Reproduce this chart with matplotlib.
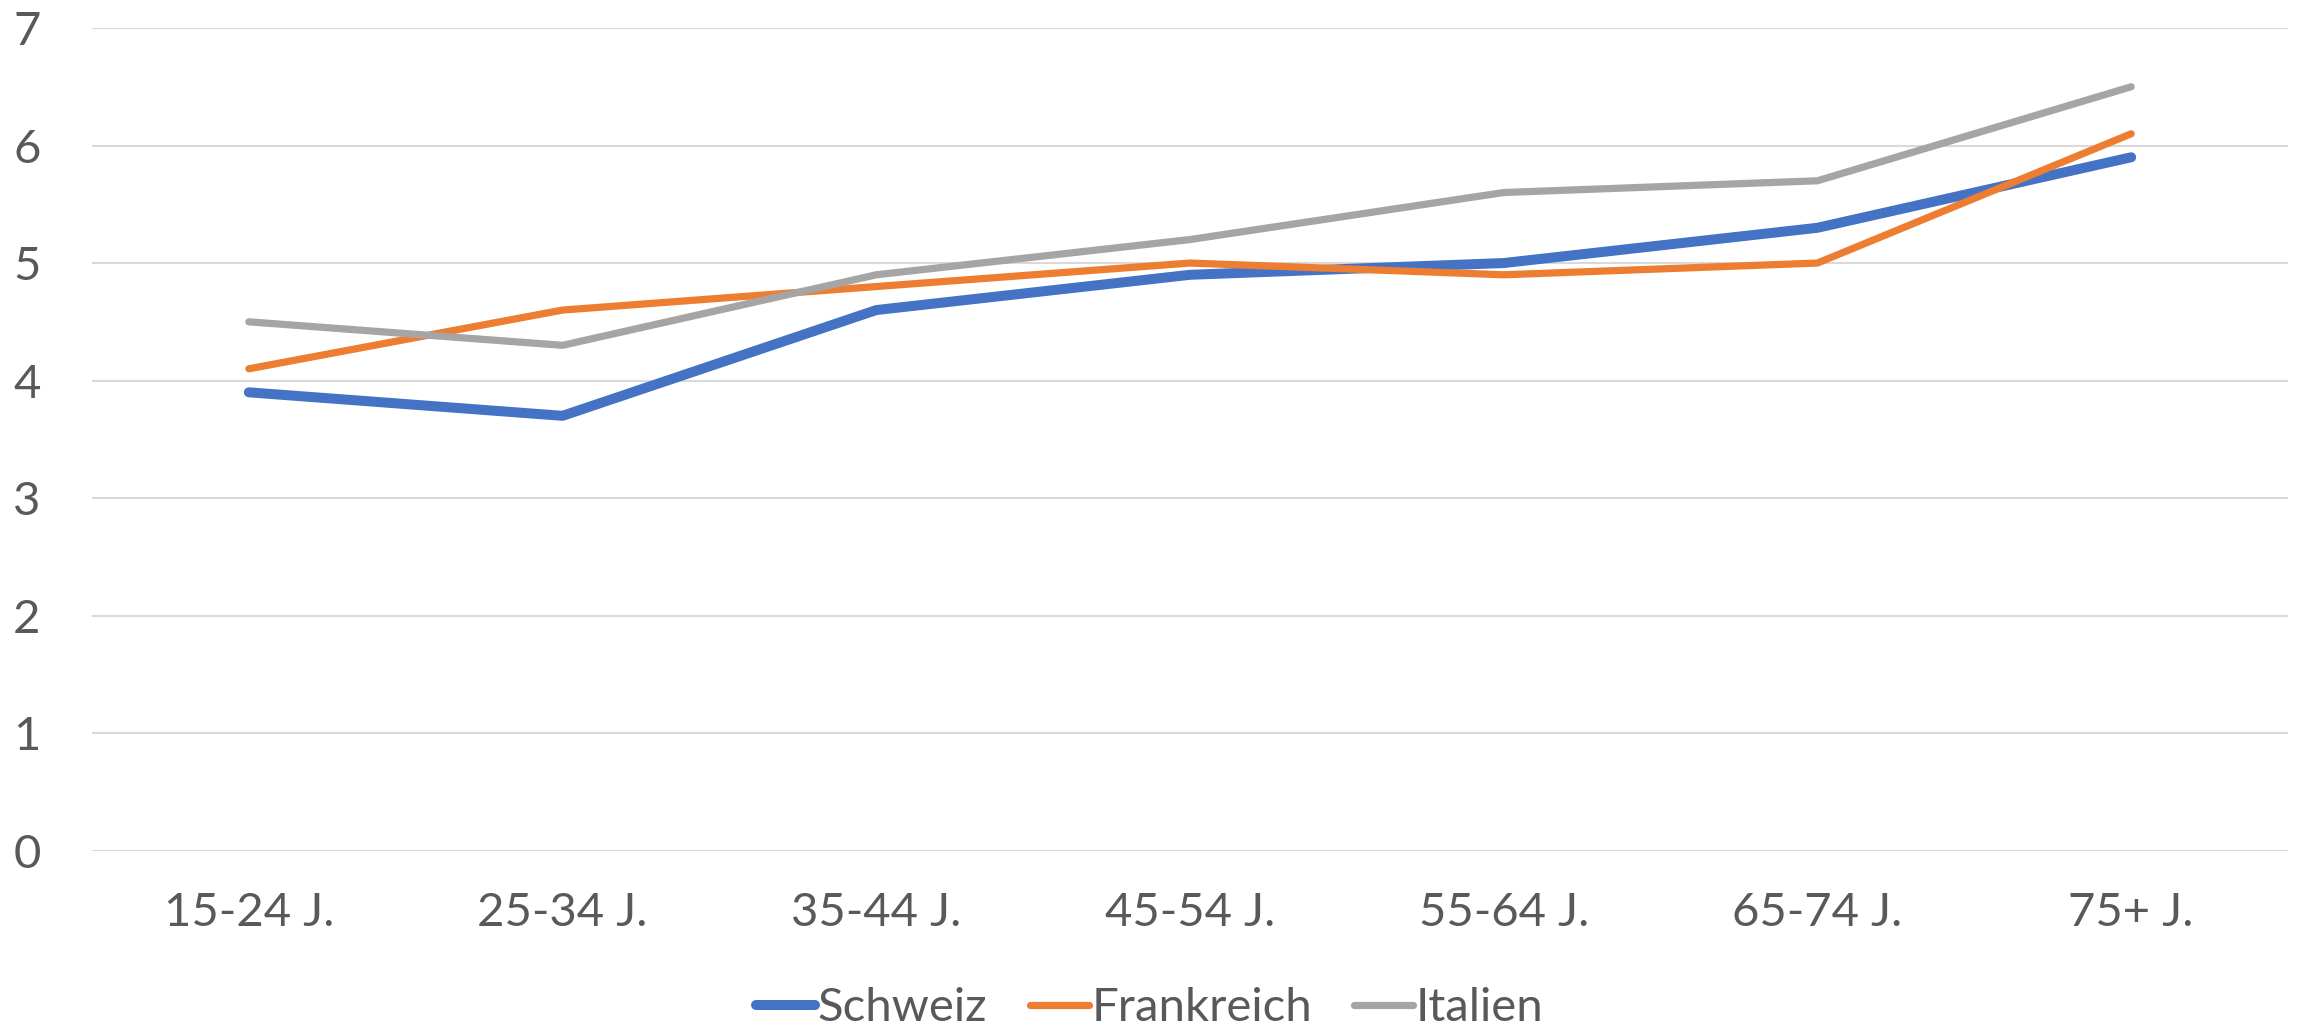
import matplotlib
matplotlib.use("Agg")
import matplotlib.pyplot as plt

categories = ["15-24 J.", "25-34 J.", "35-44 J.", "45-54 J.", "55-64 J.", "65-74 J.", "75+ J."]
schweiz = [3.9, 3.7, 4.6, 4.9, 5.0, 5.3, 5.9]
frankreich = [4.1, 4.6, 4.8, 5.0, 4.9, 5.0, 6.1]
italien = [4.5, 4.3, 4.9, 5.2, 5.6, 5.7, 6.5]
y_ticks = [0, 1, 2, 3, 4, 5, 6, 7]

plt.rcParams["font.family"] = ["Lato", "DejaVu Sans"]
text_color = "#595959"

fig = plt.figure(figsize=(23, 10.29), dpi=100)
ax = fig.add_axes([0.04, 0.1733, 0.9548, 0.7995])

x = list(range(len(categories)))
ax.plot(x, schweiz, color="#4472C4", lw=7.2, solid_capstyle="round", label="Schweiz", zorder=3)
ax.plot(x, frankreich, color="#ED7D31", lw=5.2, solid_capstyle="round", label="Frankreich", zorder=3)
ax.plot(x, italien, color="#A5A5A5", lw=5.2, solid_capstyle="round", label="Italien", zorder=3)

ax.set_xlim(-0.5, len(categories) - 0.5)
ax.set_ylim(0, 7)
ax.set_yticks(y_ticks)
ax.set_xticks(x)
ax.set_xticklabels(categories)
ax.grid(axis="y", color="#D9D9D9", lw=1.5)
ax.set_axisbelow(True)
for side in ["top", "right", "left", "bottom"]:
    ax.spines[side].set_visible(False)
ax.tick_params(axis="both", length=0, labelsize=34, colors=text_color)
ax.tick_params(axis="y", pad=37)
ax.tick_params(axis="x", pad=30)

leg = fig.legend(loc="center", bbox_to_anchor=(0.5, 0.02), ncol=3, frameon=False,
                 fontsize=34, handlelength=1.25, handletextpad=0.05, columnspacing=0.9)
for t in leg.get_texts():
    t.set_color(text_color)

fig.savefig("out.png", dpi=100)
